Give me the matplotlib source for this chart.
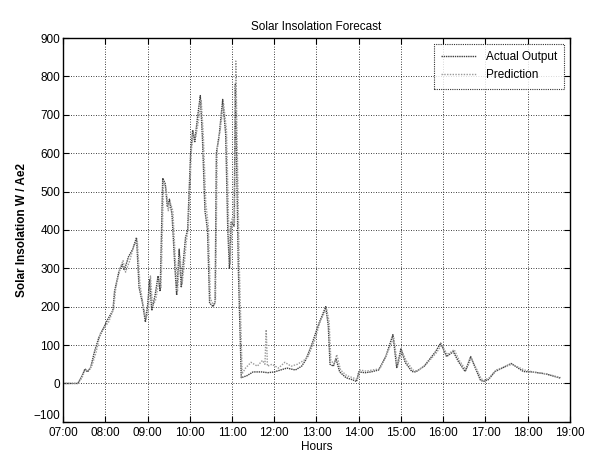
import matplotlib
matplotlib.use("Agg")
import matplotlib.pyplot as plt
from matplotlib.ticker import FuncFormatter

# hours of day (decimal) and insolation in W/m^2
ACTUAL_T = [7.00, 7.35, 7.45, 7.52, 7.58, 7.65, 7.75, 7.85, 7.94, 8.05, 8.18, 8.22,
            8.32, 8.40, 8.45, 8.55, 8.65, 8.74, 8.80, 8.88, 8.95, 9.00, 9.05, 9.10,
            9.18, 9.25, 9.30, 9.36, 9.42, 9.47, 9.52, 9.58, 9.65, 9.69, 9.75, 9.80,
            9.85, 9.90, 9.95, 10.02, 10.07, 10.12, 10.18, 10.25, 10.30, 10.36, 10.42,
            10.47, 10.55, 10.60, 10.63, 10.70, 10.78, 10.85, 10.90, 10.94, 10.98,
            11.05, 11.08, 11.15, 11.22, 11.35, 11.50, 11.70, 11.85, 12.00, 12.15,
            12.30, 12.50, 12.65, 12.75, 12.90, 13.06, 13.22, 13.28, 13.32, 13.40,
            13.46, 13.55, 13.70, 13.84, 13.95, 14.00, 14.15, 14.29, 14.47, 14.64,
            14.81, 14.90, 15.00, 15.10, 15.26, 15.35, 15.55, 15.82, 15.94, 16.08,
            16.24, 16.36, 16.52, 16.65, 16.88, 16.95, 17.07, 17.23, 17.61, 17.90,
            18.10, 18.42, 18.77]
ACTUAL = [0, 0, 20, 38, 30, 40, 85, 120, 140, 165, 190, 240,
          290, 310, 295, 330, 350, 380, 250, 210, 160, 200, 270, 190,
          230, 280, 240, 535, 520, 460, 480, 440, 300, 230, 350, 250,
          320, 380, 400, 600, 660, 630, 690, 750, 640, 450, 400,
          210, 200, 210, 600, 650, 740, 650, 400, 300, 420,
          410, 780, 300, 15, 20, 30, 30, 28, 30, 35,
          40, 35, 45, 62, 105, 157, 200, 150, 50, 45,
          65, 30, 15, 10, 5, 30, 28, 30, 35, 70,
          127, 40, 90, 55, 31, 30, 45, 83, 105, 70,
          83, 57, 31, 70, 9, 5, 10, 31, 52, 31,
          30, 25, 14]

PRED_T = [7.00, 7.35, 7.45, 7.52, 7.60, 7.68, 7.78, 7.88, 7.97, 8.08, 8.20, 8.25,
          8.35, 8.42, 8.48, 8.58, 8.68, 8.76, 8.82, 8.90, 8.97, 9.02, 9.07, 9.12,
          9.20, 9.27, 9.32, 9.38, 9.44, 9.49, 9.54, 9.60, 9.66, 9.71, 9.77, 9.82,
          9.87, 9.92, 9.97, 10.04, 10.09, 10.14, 10.20, 10.27, 10.32, 10.38, 10.44,
          10.49, 10.56, 10.61, 10.65, 10.72, 10.80, 10.87, 10.92, 10.96, 11.00,
          11.06, 11.09, 11.17, 11.24, 11.32, 11.45, 11.60, 11.72, 11.78, 11.81,
          11.84, 11.95, 12.10, 12.25, 12.40, 12.55, 12.70, 12.80, 12.95, 13.10,
          13.24, 13.30, 13.34, 13.42, 13.48, 13.57, 13.72, 13.86, 13.97, 14.03,
          14.18, 14.32, 14.50, 14.66, 14.83, 14.92, 15.02, 15.12, 15.28, 15.38,
          15.58, 15.84, 15.96, 16.10, 16.26, 16.38, 16.54, 16.67, 16.90, 16.97,
          17.09, 17.25, 17.63, 17.92, 18.12, 18.44, 18.78]
PRED = [0, 0, 15, 35, 35, 45, 80, 130, 145, 160, 195, 250,
        300, 320, 290, 320, 360, 370, 260, 200, 170, 190, 280, 200,
        220, 270, 250, 525, 510, 450, 470, 450, 320, 240, 330, 260,
        310, 370, 410, 610, 650, 640, 680, 740, 650, 470, 410,
        220, 205, 215, 610, 660, 730, 660, 420, 310, 430,
        420, 840, 320, 25, 40, 55, 45, 60, 50, 140,
        45, 50, 40, 55, 45, 50, 60, 70, 110, 165,
        195, 160, 60, 50, 75, 35, 20, 15, 10, 35,
        32, 35, 38, 75, 120, 45, 85, 60, 35, 32,
        48, 80, 100, 75, 88, 60, 35, 65, 12, 8,
        15, 35, 50, 35, 30, 25, 15]

X_TICKS = list(range(7, 20))
Y_TICKS = list(range(-100, 1000, 100))

plt.rcParams['font.family'] = ['Liberation Sans', 'DejaVu Sans']

fig = plt.figure(figsize=(6.02, 4.58), dpi=100)
ax = fig.add_axes([0.1047, 0.079, 0.842, 0.838])

ax.plot(ACTUAL_T, ACTUAL, color="#404040", lw=1.0, ls=(0, (1, 0.6)), label="Actual Output")
ax.plot(PRED_T, PRED, color="#9a9a9a", lw=1.0, ls=(0, (1, 1)), label="Prediction")

ax.set_xlim(7, 19)
ax.set_ylim(-100, 900)
ax.set_xticks(X_TICKS)
ax.set_yticks(Y_TICKS)
ax.xaxis.set_major_formatter(FuncFormatter(lambda h, p: f"{int(h):02d}:00"))
ax.tick_params(direction="in", top=True, right=True, labelsize=8.5, length=4)
ax.tick_params(axis="x", pad=4)
ax.tick_params(axis="y", pad=2)
ax.grid(True, color="black", ls=(0, (1, 2)), lw=0.6)

# lift the lowest y label a little so it clears the first time label
ax.get_yticklabels()[0].set_verticalalignment("bottom")

for s in ax.spines.values():
    s.set_linewidth(1.0)

ax.set_title("Solar Insolation Forecast", fontsize=8.5, pad=6)
ax.set_xlabel("Hours", fontsize=8.5, labelpad=1)
ax.set_ylabel("Solar Insolation W / Ae2", fontsize=8.5, fontweight="bold", labelpad=4)

leg = ax.legend(loc="upper right", fontsize=8.5, frameon=True, fancybox=False,
                edgecolor="black", handlelength=3, borderpad=0.6, labelspacing=0.55)
leg.get_frame().set_linewidth(0.8)
leg.get_frame().set_linestyle((0, (1, 1)))

fig.savefig("out.png", dpi=100)
